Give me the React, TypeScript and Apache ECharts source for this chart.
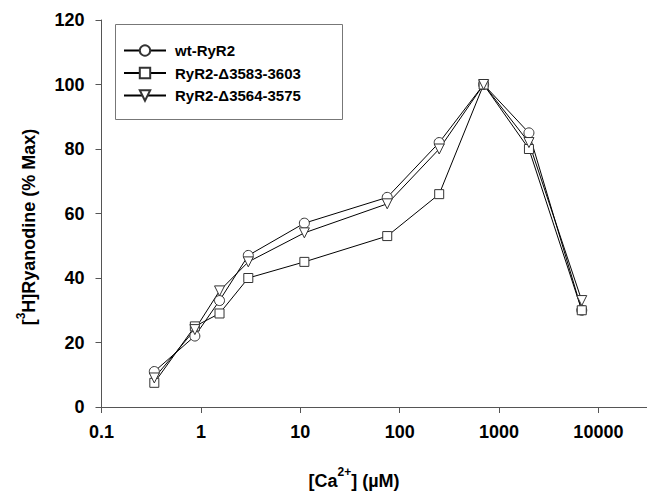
import React, { useEffect, useRef } from "react";
import * as echarts from "echarts";

const caConc = [0.34, 0.87, 1.54, 3, 11, 75, 250, 700, 2000, 6800];
const wtValues = [11, 22, 33, 47, 57, 65, 82, 100, 85, 30];
const d3583Values = [7.5, 25, 29, 40, 45, 53, 66, 100, 80, 30];
const d3564Values = [9, 24, 36, 45, 54, 63, 80, 100, 82, 33];
const seriesNames = ["wt-RyR2", "RyR2-\u03943583-3603", "RyR2-\u03943564-3575"];
const yTicks = [0, 20, 40, 60, 80, 100, 120];

const FONT = "'Liberation Sans', Arial, Helvetica, sans-serif";

export default function App() {
  const ref = useRef<HTMLDivElement>(null);
  useEffect(() => {
    document.body.style.margin = "0";
    const chart = echarts.init(ref.current!, null, { renderer: "svg" });
    const pairs = (vals: number[]) => caConc.map((x, i) => [x, vals[i]]);
    const mk = (name: string, vals: number[], symbol: string, rotate = 0) => ({
      name,
      type: "line",
      data: pairs(vals),
      symbol,
      symbolSize: symbol === "rect" ? 9 : 10,
      symbolRotate: rotate,
      showAllSymbol: true,
      lineStyle: { color: "#000", width: 1 },
      itemStyle: { color: "#fff", borderColor: "#333", borderWidth: 1 },
      emphasis: { disabled: true },
    });
    chart.setOption({
      animation: false,
      grid: { left: 101.5, top: 20, bottom: 91, right: -10, containLabel: false },
      xAxis: {
        type: "log",
        logBase: 10,
        min: 0.1,
        max: Math.pow(10, 4.489),
        axisLine: { lineStyle: { color: "#555", width: 1 } },
        axisTick: { show: true, length: 6, lineStyle: { color: "#555" } },
        splitLine: { show: false },
        minorTick: { show: false },
        axisLabel: {
          showMaxLabel: false,
          margin: 16,
          color: "#000",
          fontFamily: FONT,
          fontWeight: "bold",
          fontSize: 18,
          formatter: (v: number) => String(Number(v.toPrecision(6))),
        },
      },
      yAxis: {
        type: "value",
        min: yTicks[0],
        max: yTicks[yTicks.length - 1],
        interval: 20,
        axisLine: { show: true, lineStyle: { color: "#555", width: 1 } },
        axisTick: { show: true, length: 6, lineStyle: { color: "#555" } },
        splitLine: { show: false },
        axisLabel: {
          margin: 17,
          color: "#000",
          fontFamily: FONT,
          fontWeight: "bold",
          fontSize: 18,
        },
      },
      legend: {
        orient: "vertical",
        left: 123,
        top: 43,
        padding: 0,
        itemWidth: 42,
        itemHeight: 13,
        itemGap: 7.5,
        data: seriesNames,
        textStyle: {
          fontFamily: FONT,
          fontWeight: "bold",
          fontSize: 15,
          lineHeight: 15,
          color: "#000",
          padding: [0, 0, 0, 4],
        },
      },
      graphic: [
        {
          type: "rect",
          shape: { x: 115.5, y: 24.5, width: 227, height: 95 },
          style: { fill: "none", stroke: "#777", lineWidth: 1 },
          silent: true,
        },
        {
          type: "text",
          x: 354,
          y: 480.5,
          style: {
            text: "[Ca{sup|2+}] (\u00b5M)",
            align: "center",
            verticalAlign: "middle",
            fontFamily: FONT,
            fontWeight: "bold",
            fontSize: 18,
            fill: "#000",
            rich: {
              sup: { fontFamily: FONT, fontWeight: "bold", fontSize: 12, verticalAlign: "top", lineHeight: 12 },
            },
            lineHeight: 29,
          },
        },
        {
          type: "text",
          x: 29.2,
          y: 227,
          rotation: Math.PI / 2,
          style: {
            text: "[{sup|3}H]Ryanodine (% Max)",
            align: "center",
            verticalAlign: "middle",
            fontFamily: FONT,
            fontWeight: "bold",
            fontSize: 18,
            fill: "#000",
            rich: {
              sup: { fontFamily: FONT, fontWeight: "bold", fontSize: 12, verticalAlign: "top", lineHeight: 12 },
            },
            lineHeight: 29,
          },
        },
      ],
      series: [
        mk(seriesNames[0], wtValues, "circle"),
        mk(seriesNames[1], d3583Values, "rect"),
        mk(seriesNames[2], d3564Values, "triangle", 180),
      ],
    });
    return () => chart.dispose();
  }, []);
  return (
    <div
      ref={ref}
      style={{ width: 647, height: 498, position: "absolute", left: 0, top: 0, background: "#fff" }}
    />
  );
}
